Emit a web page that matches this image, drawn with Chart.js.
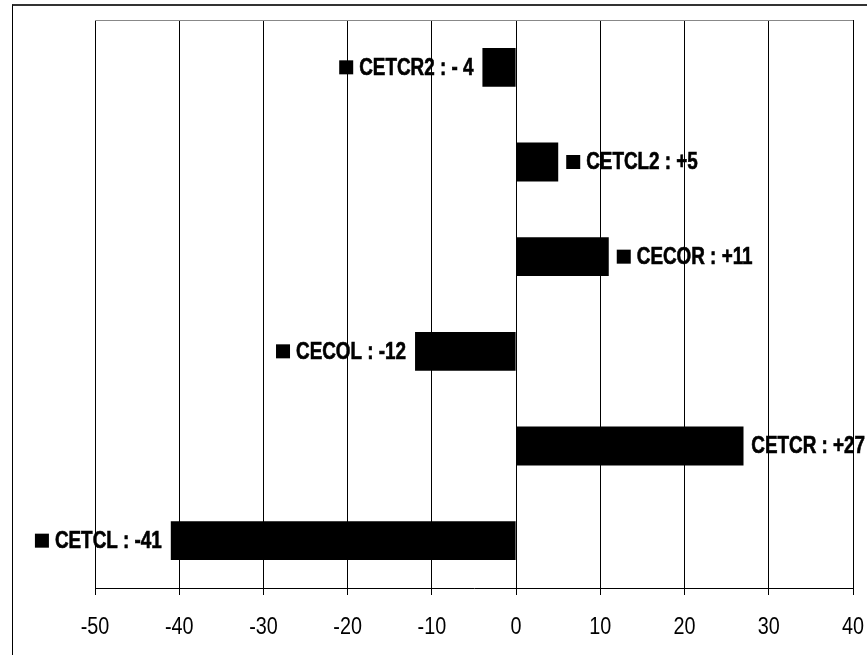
<!DOCTYPE html>
<html>
<head>
  <meta charset="UTF-8">
  <title>CET / CEC</title>
  <script src="https://cdn.jsdelivr.net/npm/chart.js@4.4.1/dist/chart.umd.min.js"></script>
  <style>
    body { margin: 0; background: #fff; overflow: hidden; }
    #wrap { position: relative; width: 867px; height: 655px; }
    #frame { position: absolute; left: 12px; top: 4px; width: 900px; height: 700px;
             border-left: 1px solid #000; border-top: 2px solid #333; }
    #box { position: absolute; left: 0; top: 0; width: 867px; height: 655px; }
  </style>
</head>
<body>
<div id="wrap">
  <div id="frame"></div>
  <div id="box"><canvas id="myChart"></canvas></div>
</div>
<script>
  // top to bottom, as in the picture
  var categories = ["CETCR2", "CETCL2", "CECOR", "CECOL", "CETCR", "CETCL"];
  var values = [-4, 5, 11, -12, 27, -41];
  var barLabels = ["CETCR2 : - 4", "CETCL2 : +5", "CECOR : +11", "CECOL : -12", "CETCR : +27", "CETCL : -41"];
  var xMin = -50, xMax = 40, xStep = 10;

  var fam = "'Liberation Sans', Arial, sans-serif";
  var squeeze = 0.82;   // no narrow font here, so squeeze the text sideways

  // labels with a small black key, drawn before the bars so a bar can hide the key
  var keyLabels = {
    id: "keyLabels",
    beforeDatasetsDraw: function(chart) {
      var ctx = chart.ctx;
      var meta = chart.getDatasetMeta(0);
      ctx.save();
      ctx.font = "bold 23px " + fam;
      ctx.textBaseline = "middle";
      ctx.textAlign = "left";
      ctx.fillStyle = "#000";
      ctx.strokeStyle = "#000";
      ctx.lineWidth = 0.6;
      meta.data.forEach(function(bar, i) {
        var txt = barLabels[i];
        var w = ctx.measureText(txt).width * squeeze;
        var y = bar.y;
        var keyW = 14, keyH = 14, gap = 6;
        var textX, keyX;
        if (values[i] < 0) {
          textX = bar.x - 9 - w;
          keyX = textX - gap - keyW;
        } else {
          keyX = bar.x + 8;
          textX = keyX + keyW + gap;
          var over = textX + w - (chart.width - 2);
          if (over > 0) {
            // pushed back over the bar, like the original: key ends up hidden
            textX = Math.max(textX - over, bar.x + 4);
            keyX = Math.min(textX - gap - keyW, bar.x - keyW - 1);
          }
        }
        ctx.fillRect(keyX, y - keyH / 2, keyW, keyH);
        ctx.save();
        ctx.translate(textX, y + 1);
        ctx.scale(squeeze, 1);
        ctx.fillText(txt, 0, 0);
        ctx.strokeText(txt, 0, 0);
        ctx.restore();
      });
      ctx.restore();
    },
    afterDraw: function(chart) {
      var a = chart.chartArea, ctx = chart.ctx;
      var sx = chart.scales.x;
      ctx.save();
      // top edge of the plot area
      ctx.strokeStyle = "#888";
      ctx.lineWidth = 1;
      ctx.beginPath();
      ctx.moveTo(a.left, a.top + 0.5);
      ctx.lineTo(a.right, a.top + 0.5);
      ctx.stroke();
      // x tick labels, squeezed like the original
      ctx.fillStyle = "#000";
      ctx.font = "23px " + fam;
      ctx.textAlign = "center";
      ctx.textBaseline = "middle";
      sx.ticks.forEach(function(t) {
        ctx.save();
        ctx.translate(sx.getPixelForValue(t.value), 628);
        ctx.scale(0.86, 1);
        ctx.fillText(String(t.value), 0, 0);
        ctx.restore();
      });
      ctx.restore();
    }
  };

  new Chart(document.getElementById("myChart"), {
    type: "bar",
    data: {
      labels: categories,
      datasets: [{
        data: values,
        backgroundColor: "#000",
        borderWidth: 0,
        barPercentage: 0.41,
        categoryPercentage: 1
      }]
    },
    plugins: [keyLabels],
    options: {
      indexAxis: "y",
      responsive: true,
      maintainAspectRatio: false,
      animation: false,
      layout: { padding: { left: 95, right: 14, top: 20, bottom: 60 } },
      plugins: { legend: { display: false }, tooltip: { enabled: false } },
      scales: {
        x: {
          min: xMin,
          max: xMax,
          ticks: { stepSize: xStep, display: false },
          grid: { color: "#000", lineWidth: 1, tickLength: 7, drawOnChartArea: true },
          border: { color: "#000", width: 1 }
        },
        y: {
          display: false
        }
      }
    }
  });
</script>
</body>
</html>
